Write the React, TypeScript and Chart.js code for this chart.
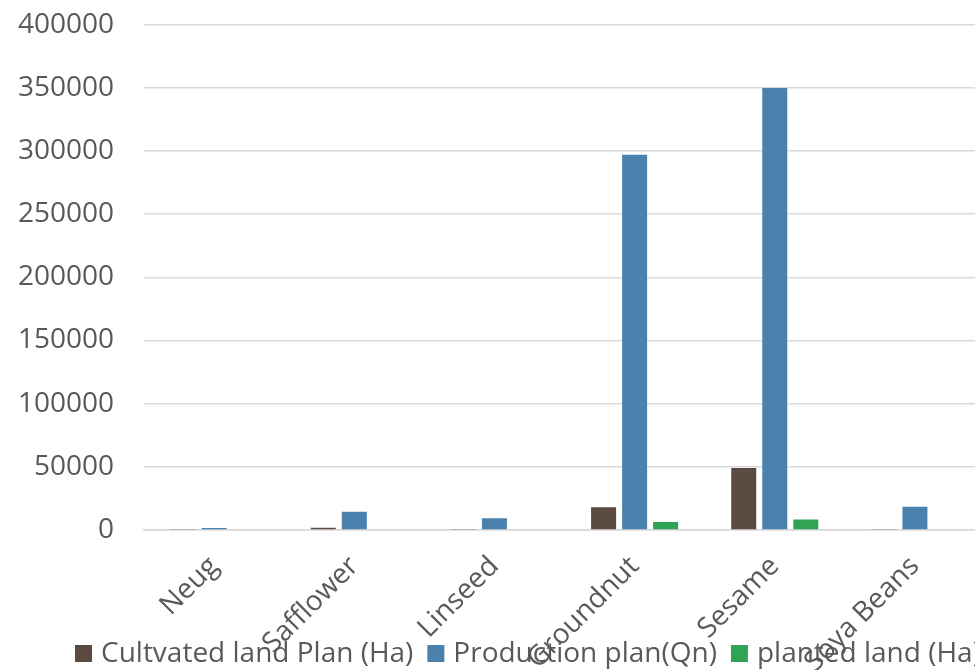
import React, { useEffect, useRef } from "react";
import { Chart, registerables } from "chart.js";

Chart.register(...registerables);

const categories = ["Neug", "Safflower", "Linseed", "Groundnut", "Sesame", "Soya Beans"];
const cultivatedPlan = [300, 1800, 800, 18000, 49000, 800];
const productionPlan = [1500, 14300, 9300, 297000, 350000, 18300];
const plantedLand = [0, 0, 0, 6300, 8200, 0];
const seriesNames = ["Cultvated land Plan (Ha)", "Production plan(Qn)", "planted land (Ha)"];
const seriesColors = ["#5b4a42", "#4a82ad", "#31a354"];
const yMin = 0;
const yMax = 400000;
const yStep = 50000;

const FONT = "'Open Sans', 'Noto Sans', sans-serif";
const TEXT = "#595959";
const SHIFT_Y = 22;
const SHIFT_X = 29;

const bottomLegend = {
  id: "bottomLegend",
  afterDraw(chart: any) {
    const ctx = chart.ctx;
    const size = 28;
    const box = 17;
    const gapBox = 9;
    const gapItem = 14;
    const cy = 653.5 + SHIFT_Y;
    let x = 75 + SHIFT_X;
    ctx.save();
    ctx.font = `${size}px ${FONT}`;
    ctx.textBaseline = "middle";
    ctx.textAlign = "left";
    chart.data.datasets.forEach((ds: any) => {
      ctx.fillStyle = ds.backgroundColor;
      ctx.fillRect(x, cy - box / 2, box, box);
      x += box + gapBox;
      ctx.fillStyle = TEXT;
      ctx.fillText(ds.label, x, cy + 1);
      x += ctx.measureText(ds.label).width + gapItem;
    });
    ctx.restore();
  },
};

export default function App() {
  const ref = useRef<HTMLCanvasElement | null>(null);
  useEffect(() => {
    document.body.style.overflow = "hidden";
    const ctx = ref.current!;
    const chart = new Chart(ctx, {
      type: "bar",
      data: {
        labels: categories,
        datasets: [cultivatedPlan, productionPlan, plantedLand].map((d, i) => ({
          label: seriesNames[i],
          data: d,
          backgroundColor: seriesColors[i],
          borderWidth: 0,
          categoryPercentage: 0.664,
          barPercentage: 0.806,
        })),
      },
      plugins: [bottomLegend],
      options: {
        responsive: false,
        animation: false,
        devicePixelRatio: 1,
        layout: { padding: { left: 17, right: 15, top: 3, bottom: 15 } },
        plugins: {
          tooltip: { enabled: false },
          legend: { display: false },
        },
        scales: {
          x: {
            grid: { display: false, drawTicks: false },
            border: { display: true, color: "#d9d9d9", width: 1.5 },
            ticks: {
              color: TEXT,
              font: { family: FONT, size: 28 },
              minRotation: 45,
              maxRotation: 45,
              autoSkip: false,
              padding: 20,
            },
          },
          y: {
            min: yMin,
            max: yMax,
            grid: { color: "#d9d9d9", lineWidth: 1.5, drawTicks: false },
            border: { display: false },
            ticks: {
              stepSize: yStep,
              color: TEXT,
              font: { family: FONT, size: 28 },
              padding: 30,
              callback: (v: any) => String(v),
            },
          },
        },
      },
    });
    return () => chart.destroy();
  }, []);
  return (
    <div style={{ position: "absolute", left: 0, top: 0, width: 975, height: 670, overflow: "hidden", background: "#fff" }}>
      <canvas
        ref={ref}
        width={1029}
        height={736}
        style={{ width: 1029, height: 736, display: "block", marginTop: -SHIFT_Y, marginLeft: -SHIFT_X }}
      />
    </div>
  );
}
